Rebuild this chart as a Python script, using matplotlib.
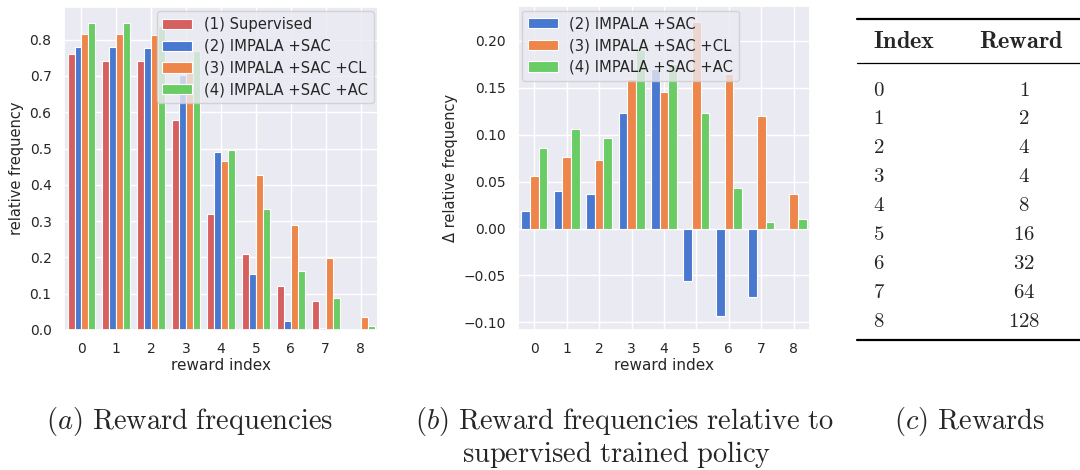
import numpy as np
import matplotlib
matplotlib.use("Agg")
from matplotlib import pyplot as plt
from matplotlib.lines import Line2D
import seaborn as sns

sns.set_theme(style="darkgrid", palette="muted")
plt.rcParams['font.family'] = ['DejaVu Sans']
plt.rcParams['mathtext.fontset'] = 'cm'

# reward index and per-index rewards (table c)
reward_index = [0, 1, 2, 3, 4, 5, 6, 7, 8]
rewards = [1, 2, 4, 4, 8, 16, 32, 64, 128]

# relative frequencies (chart a)
labels = ['(1) Supervised', '(2) IMPALA +SAC', '(3) IMPALA +SAC +CL', '(4) IMPALA +SAC +AC']
supervised = [0.76, 0.74, 0.74, 0.58, 0.32, 0.21, 0.12, 0.08, 0.0]
impala_sac = [0.78, 0.78, 0.777, 0.703, 0.49, 0.154, 0.026, 0.006, 0.0]
impala_sac_cl = [0.816, 0.816, 0.813, 0.739, 0.466, 0.428, 0.288, 0.199, 0.036]
impala_sac_ac = [0.846, 0.846, 0.837, 0.77, 0.495, 0.333, 0.162, 0.087, 0.01]

# difference to supervised (chart b)
delta_sac = [0.019, 0.04, 0.037, 0.123, 0.17, -0.056, -0.093, -0.073, 0.0]
delta_cl = [0.056, 0.076, 0.073, 0.159, 0.146, 0.22, 0.165, 0.12, 0.037]
delta_ac = [0.086, 0.106, 0.097, 0.19, 0.175, 0.123, 0.043, 0.007, 0.01]

pal = sns.color_palette("muted")
colors = [pal[3], pal[0], pal[1], pal[2]]

fig = plt.figure(figsize=(10.8, 4.7), dpi=100)
ax1 = fig.add_axes([0.0593, 0.298, 0.2907, 0.687])
ax2 = fig.add_axes([0.4796, 0.298, 0.2704, 0.689])

x = np.array(reward_index)


def grouped_bars(ax, series, names, cols):
    n = len(series)
    w = 0.8 / n
    for i, (vals, name, c) in enumerate(zip(series, names, cols)):
        ax.bar(x - 0.4 + w * (i + 0.5), vals, w, color=c, label=name,
               edgecolor='white', linewidth=0.8)
    ax.set_xticks(x)
    ax.set_xlim(-0.5, 8.5)
    ax.set_xlabel('reward index', fontsize=11, labelpad=1)
    ax.tick_params(labelsize=10, pad=3)


grouped_bars(ax1, [supervised, impala_sac, impala_sac_cl, impala_sac_ac], labels, colors)
ax1.set_ylim(0, 0.89)
ax1.set_yticks(np.arange(0, 0.81, 0.1))
ax1.set_ylabel('relative frequency', fontsize=10.5)
ax1.legend(loc='upper right', fontsize=10.6, framealpha=0.8, borderaxespad=0.3,
           labelspacing=0.45)

grouped_bars(ax2, [delta_sac, delta_cl, delta_ac], labels[1:], colors[1:])
ax2.set_ylim(-0.108, 0.237)
ax2.set_yticks([-0.10, -0.05, 0.0, 0.05, 0.10, 0.15, 0.20])
ax2.set_yticklabels(['\u22120.10', '\u22120.05', '0.00', '0.05', '0.10', '0.15', '0.20'])
ax2.set_ylabel('\u0394 relative frequency', fontsize=10.5)
ax2.legend(loc='upper left', fontsize=10.6, framealpha=0.8, borderaxespad=0.3,
           labelspacing=0.45)


def fy(py):
    return 1 - py / 470


# captions
fs_cap = 20.5
fig.text(190 / 1080, fy(429), r'$(a)$ $\mathrm{Reward\ frequencies}$',
         ha='center', va='baseline', fontsize=fs_cap)
fig.text(415 / 1080, fy(429), r'$(b)$ $\mathrm{Reward\ frequencies\ relative\ to}$',
         ha='left', va='baseline', fontsize=fs_cap)
fig.text(462 / 1080, fy(462), r'$\mathrm{supervised\ trained\ policy}$',
         ha='left', va='baseline', fontsize=fs_cap)
fig.text(970 / 1080, fy(429), r'$(c)$ $\mathrm{Rewards}$',
         ha='center', va='baseline', fontsize=fs_cap)

# table (c)
fig.add_artist(Line2D([857 / 1080, 1.0], [fy(19), fy(19)], color='black', lw=1.6))
fig.add_artist(Line2D([857 / 1080, 1.0], [fy(63), fy(63)], color='black', lw=0.9))
fig.add_artist(Line2D([857 / 1080, 1.0], [fy(340), fy(340)], color='black', lw=1.6))
fs_head = 17.5
fs_tab = 15
fig.text(873 / 1080, fy(41), r'$\mathbf{Index}$', ha='left', va='center', fontsize=fs_head)
fig.text(1021 / 1080, fy(41), r'$\mathbf{Reward}$', ha='center', va='center', fontsize=fs_head)
for k, (idx, r) in enumerate(zip(reward_index, rewards)):
    yy = fy(89.5 + 28.9 * k)
    fig.text(873 / 1080, yy, r'$\mathrm{%d}$' % idx, ha='left', va='center', fontsize=fs_tab)
    fig.text(1024 / 1080, yy, r'$\mathrm{%d}$' % r, ha='center', va='center', fontsize=fs_tab)

fig.savefig('out.png', dpi=100, facecolor='white')
